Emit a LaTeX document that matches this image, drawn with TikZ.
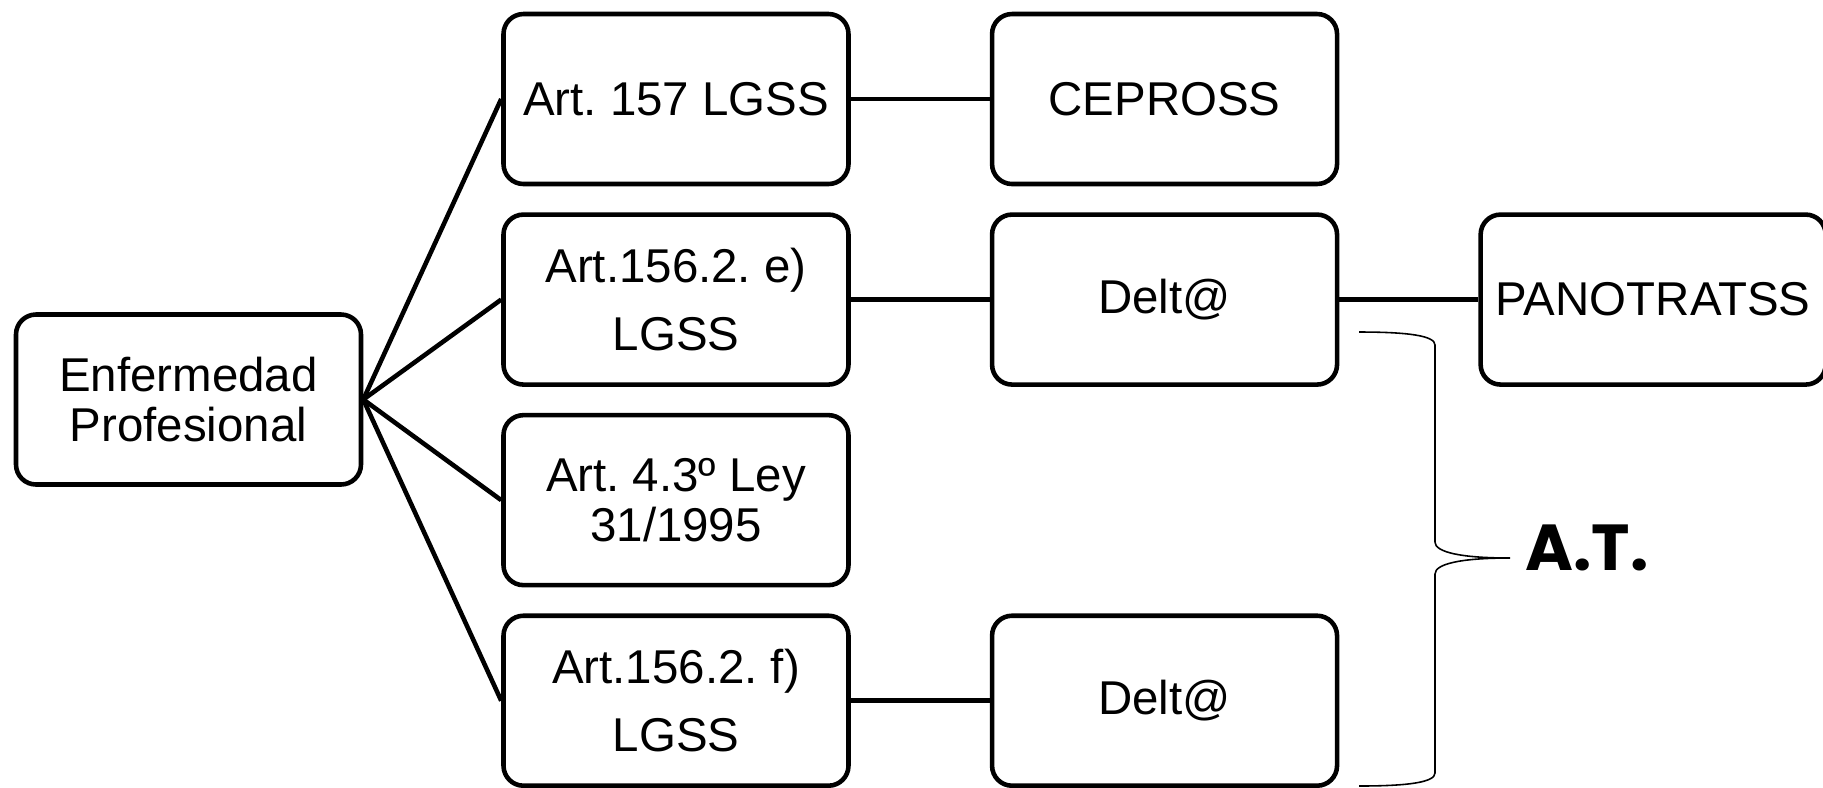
\documentclass[tikz,border=0pt]{standalone}
\usepackage{fontspec}
\setmainfont{Liberation Sans}
\newfontfamily\bracefont{Poppins}
\usepackage{tikz}
\usetikzlibrary{positioning}
\frenchspacing

\begin{document}
\begin{tikzpicture}[
    node distance=0.26cm and 1.39cm,
    box/.style={rectangle, rounded corners=0.2cm, draw=black, line width=1.3pt, minimum width=3.45cm, minimum height=1.70cm, align=center, inner sep=2pt, font=\fontsize{13.5}{14.2}\selectfont},
    tallbox/.style={box, font=\fontsize{13.5}{19.3}\selectfont},
    link/.style={line width=1.3pt, black}
]
\useasboundingbox (0,0) rectangle (18.23,-7.87);

\node[box] (art157) at (6.76,-0.99) {Art. 157 LGSS};
\node[tallbox, below=of art157] (art1562e) {Art.156.2. e)\\LGSS};
\node[box, below=of art1562e] (art43) {Art. 4.3º Ley\\31/1995};
\node[tallbox, below=of art43] (art1562f) {Art.156.2. f)\\LGSS};

\node[box] (enf) at (1.885,-3.995) {Enfermedad\\Profesional};

\node[box, right=of art157] (cepross) {CEPROSS};
\node[box, right=of art1562e] (delta1) {Delt@};
\node[box, right=of art1562f] (delta2) {Delt@};
\node[box, right=of delta1] (panot) {PANOTRATSS};

\draw[link] (enf.east) -- (art157.west);
\draw[link] (enf.east) -- (art1562e.west);
\draw[link] (enf.east) -- (art43.west);
\draw[link] (enf.east) -- (art1562f.west);
\draw[link] (art157) -- (cepross);
\draw[link] (art1562e) -- (delta1);
\draw[link] (art1562f) -- (delta2);
\draw[link] (delta1) -- (panot);

% llave A.T.
\draw[line width=0.45pt] (13.59,-3.32) .. controls (14.1,-3.32) and (14.35,-3.36) .. (14.35,-3.45)
    -- (14.35,-5.42) .. controls (14.35,-5.52) and (14.6,-5.58) .. (15.10,-5.58)
    .. controls (14.6,-5.58) and (14.35,-5.64) .. (14.35,-5.74)
    -- (14.35,-7.73) .. controls (14.35,-7.82) and (14.1,-7.86) .. (13.59,-7.86);
\node[anchor=west, inner sep=0pt, font=\bracefont\bfseries\fontsize{18.5}{20}\selectfont] (at) at (15.25,-5.48) {A.T.};

\end{tikzpicture}
\end{document}
